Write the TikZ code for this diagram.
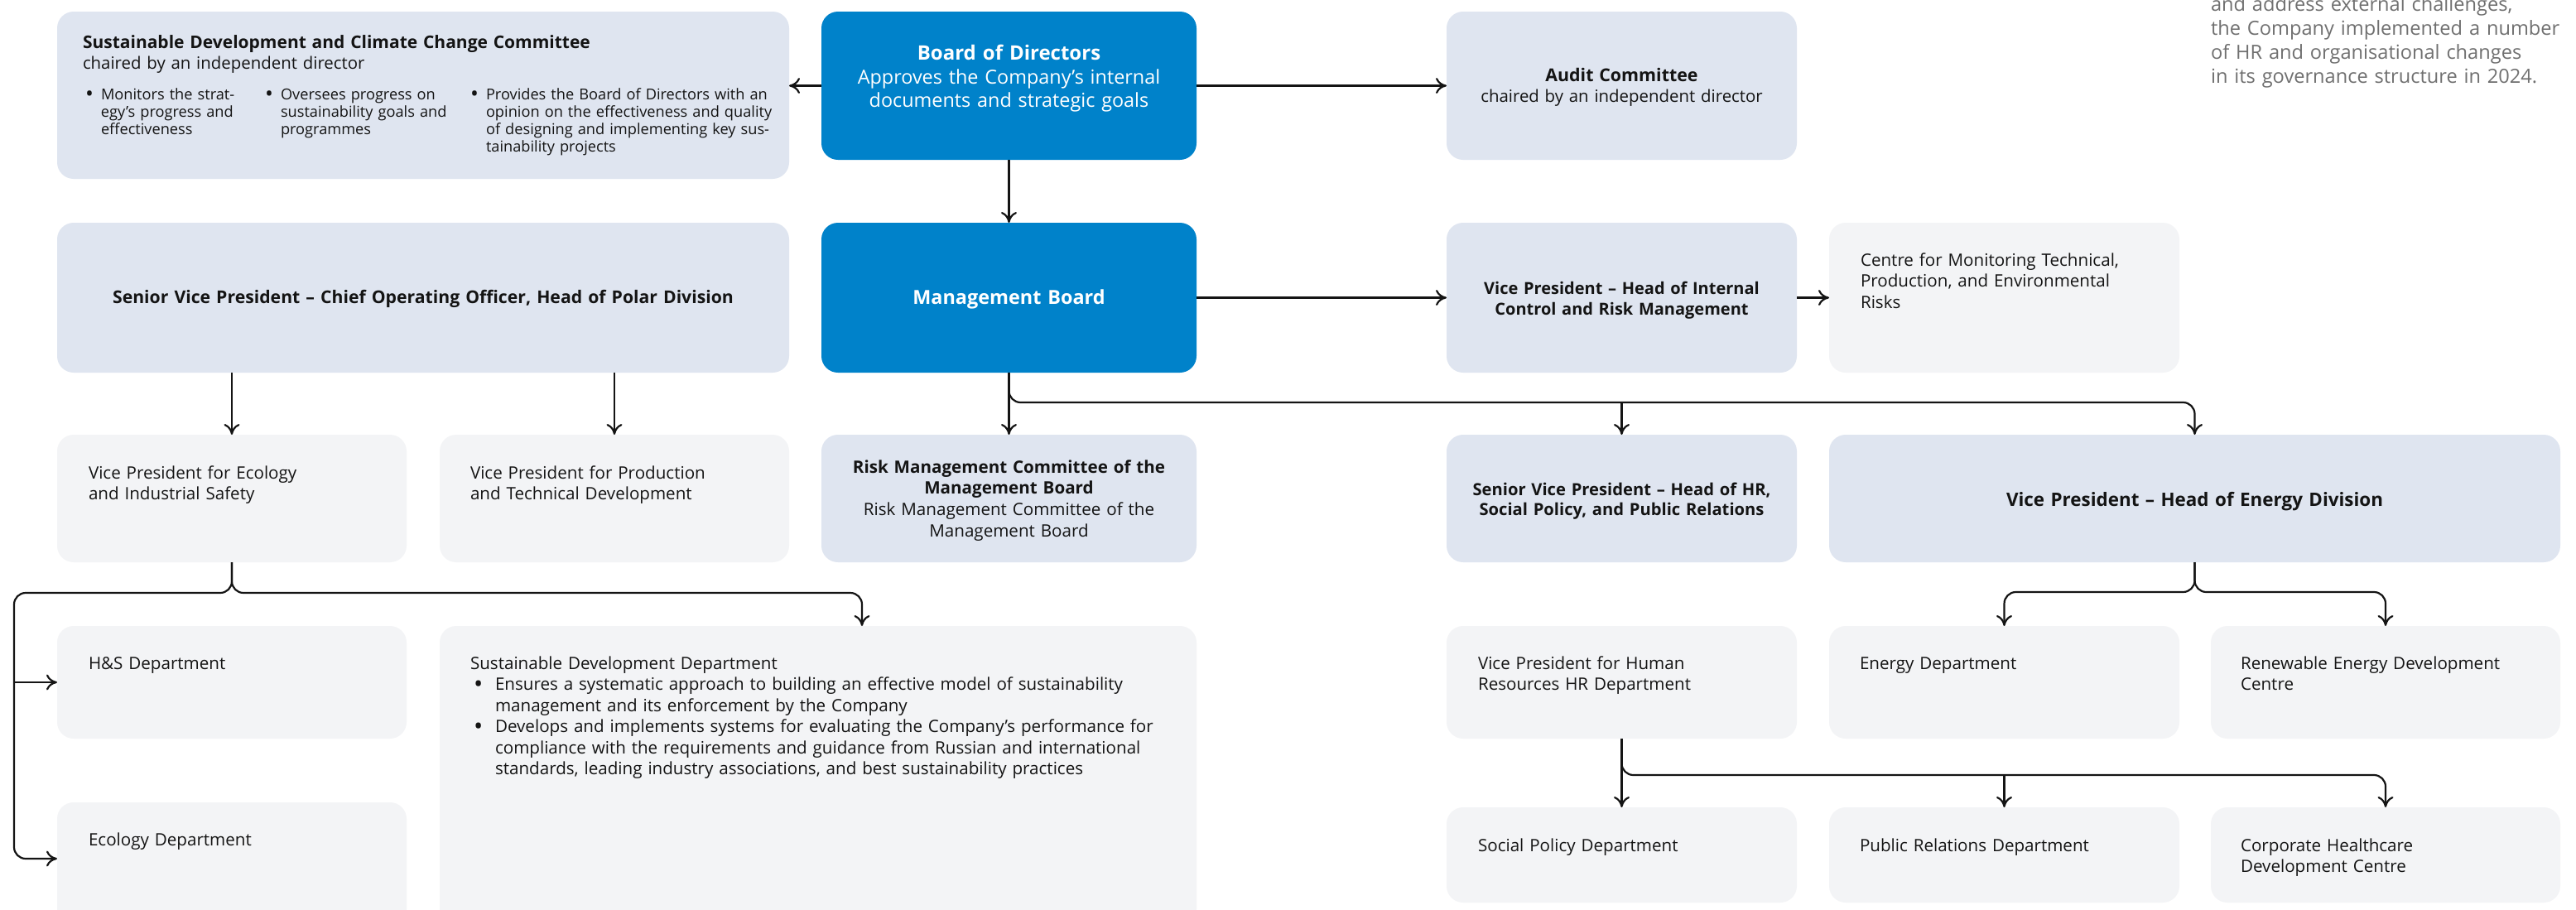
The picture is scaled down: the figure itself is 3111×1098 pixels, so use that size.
\documentclass[tikz,border=0pt]{standalone}
\usepackage{fontspec}
\setmainfont{Open Sans}
\usetikzlibrary{arrows.meta}
\definecolor{nnblue}{RGB}{0,130,202}
\definecolor{boxblue}{RGB}{223,229,240}
\definecolor{boxgray}{RGB}{243,244,246}
\definecolor{notegray}{RGB}{112,112,112}
\definecolor{ink}{RGB}{20,20,20}
\newcommand\fBody{\fontsize{10.3}{12.75}\selectfont}
\newcommand\fHead{\fontsize{10.2}{12.5}\selectfont\bfseries}
\newcommand\fSmall{\fontsize{9.1}{10.5}\selectfont}
\newcommand\fSdcc{\fontsize{10.2}{12.5}\selectfont}
\newcommand\fBodTitle{\fontsize{12}{14}\selectfont\bfseries}
\newcommand\fBodBody{\fontsize{11.7}{14}\selectfont}
\newcommand\fMB{\fontsize{11.7}{14}\selectfont\bfseries}
\newcommand\fCoo{\fontsize{10.6}{12}\selectfont\bfseries}
\newcommand\fNote{\fontsize{11.8}{14.65}\selectfont}
\newcommand\bigdot{\raisebox{-0.25ex}{\scalebox{1.45}{\textbullet}}}
\newcommand\bulS{\makebox[9.5pt][l]{\bigdot}}
\newcommand\bulSsp{\hspace*{9.5pt}}
\newcommand\bulL{\makebox[15pt][l]{\hspace{2pt}\bigdot}}
\newcommand\bulLsp{\hspace*{15pt}}
\begin{document}
\begin{tikzpicture}[x=0.5pt,y=-0.5pt,
  box/.style={rounded corners=10pt, inner sep=0pt, outer sep=0pt, draw=none},
  bluebox/.style={box, fill=nnblue},
  lbox/.style={box, fill=boxblue},
  gbox/.style={box, fill=boxgray},
  conn/.style={line width=1.1pt, draw=ink, -{Computer Modern Rightarrow[length=6.5pt,width=9.5pt]}},
  bus/.style={conn, rounded corners=7pt},
  ltxt/.style={inner sep=0pt, outer sep=0pt, anchor=base west, align=left, text width=#1, text=ink, font=\fBody},
  ltxt/.default=300pt,
  ctxt/.style={inner sep=0pt, outer sep=0pt, anchor=base, align=center, text width=#1, text=ink, font=\fHead},
  ctxt/.default=400pt
]
\useasboundingbox (0,0) rectangle (3111,1098);
\clip (0,0) rectangle (3111,1098);
\fill[white] (0,0) rectangle (3111,1098);

% ---------- boxes ----------
\node[lbox, minimum width=442pt, minimum height=101pt] (sdcc) at (511,115) {};
\node[bluebox, minimum width=226.5pt, minimum height=89.5pt] (bod) at (1218.5,103.5) {};
\node[lbox, minimum width=211.5pt, minimum height=89.5pt] (audit) at (1958.5,103.5) {};

\node[lbox, minimum width=442pt, minimum height=90.5pt] (svpcoo) at (511,359.5) {};
\node[bluebox, minimum width=226.5pt, minimum height=90.5pt] (mb) at (1218.5,359.5) {};
\node[lbox, minimum width=211.5pt, minimum height=90.5pt] (vpic) at (1958.5,359.5) {};
\node[gbox, minimum width=211.5pt, minimum height=90.5pt] (cmon) at (2420.5,359.5) {};

\node[gbox, minimum width=211pt, minimum height=77pt] (vpeco) at (280,602) {};
\node[gbox, minimum width=211pt, minimum height=77pt] (vpprod) at (742,602) {};
\node[lbox, minimum width=226.5pt, minimum height=77pt] (rmc) at (1218.5,602) {};
\node[lbox, minimum width=211.5pt, minimum height=77pt] (svphr) at (1958.5,602) {};
\node[lbox, minimum width=441.5pt, minimum height=77pt] (vpen) at (2650.5,602) {};

\node[gbox, minimum width=211pt, minimum height=68pt] (hs) at (280,824) {};
\node[gbox, minimum width=457pt, minimum height=202pt] (sdd) at (988,958) {};
\node[gbox, minimum width=211.5pt, minimum height=68pt] (vphr) at (1958.5,824) {};
\node[gbox, minimum width=211.5pt, minimum height=68pt] (ende) at (2420.5,824) {};
\node[gbox, minimum width=211pt, minimum height=68pt] (rend) at (2881,824) {};

\node[gbox, minimum width=211pt, minimum height=110pt] (eco) at (280,1079) {};
\node[gbox, minimum width=211.5pt, minimum height=57.5pt] (spd) at (1958.5,1032.5) {};
\node[gbox, minimum width=211.5pt, minimum height=57.5pt] (prd) at (2420.5,1032.5) {};
\node[gbox, minimum width=211pt, minimum height=57.5pt] (chd) at (2881,1032.5) {};

% ---------- texts ----------
\node[ltxt=420pt, font=\fSdcc] (t-sdcc) at (100,58)
  {{\fontsize{10.5}{12.5}\selectfont\bfseries Sustainable Development and Climate Change Committee}\\chaired by an independent director};
\node[ltxt=110pt, font=\fSmall] (t-sdcc1) at (103,120)
  {\bulS Monitors the strat-\\\bulSsp egy’s progress and\\\bulSsp effectiveness};
\node[ltxt=125pt, font=\fSmall] (t-sdcc2) at (320,120)
  {\bulS Oversees progress on\\\bulSsp sustainability goals and\\\bulSsp programmes};
\node[ltxt=200pt, font=\fSmall] (t-sdcc3) at (568,120)
  {\bulS Provides the Board of Directors with an\\\bulSsp opinion on the effectiveness and quality\\\bulSsp of designing and implementing key sus-\\\bulSsp tainability projects};

\node[ctxt=220pt, font=\fBodTitle, text=white] (t-bod1) at (1218.5,72) {Board of Directors};
\node[ctxt=220pt, font=\fBodBody, text=white] (t-bod2) at (1218.5,101)
  {Approves the Company’s internal\\documents and strategic goals};
\node[ctxt=210pt, font=\fontsize{10.2}{12.5}\selectfont] (t-aud) at (1958.5,98)
  {{\fontsize{10.7}{12.5}\selectfont\bfseries Audit Committee}\\chaired by an independent director};

\node[ltxt=215pt, font=\fNote, text=notegray] (t-note) at (2670,13)
  {and address external challenges,\\the Company implemented a number\\of HR and organisational changes\\in its governance structure in 2024.};

\node[ctxt=440pt, font=\fCoo] (t-coo) at (511,366)
  {Senior Vice President – Chief Operating Officer, Head of Polar Division};
\node[ctxt=220pt, font=\fMB, text=white] (t-mb) at (1218.5,367) {Management Board};
\node[ctxt=210pt, font=\fontsize{10}{12.5}\selectfont\bfseries] (t-vpic) at (1958.5,355)
  {Vice President – Head of Internal\\Control and Risk Management};
\node[ltxt=190pt] (t-cmon) at (2247,321)
  {Centre for Monitoring Technical,\\Production, and Environmental\\Risks};

\node[ltxt=190pt] (t-vpeco) at (107,578) {Vice President for Ecology\\and Industrial Safety};
\node[ltxt=190pt] (t-vpprod) at (568,578) {Vice President for Production\\and Technical Development};
\node[ctxt=224pt, font=\fontsize{10.3}{12.85}\selectfont] (t-rmc) at (1218.5,571)
  {{\bfseries Risk Management Committee of the}\\{\bfseries Management Board}\\Risk Management Committee of the\\Management Board};
\node[ctxt=210pt, font=\fontsize{10.1}{12.2}\selectfont\bfseries] (t-svphr) at (1958.5,598)
  {Senior Vice President – Head of HR,\\Social Policy, and Public Relations};
\node[ctxt=430pt, font=\fontsize{11.2}{13}\selectfont\bfseries] (t-vpen) at (2650.5,611) {Vice President – Head of Energy Division};

\node[ltxt=190pt] (t-hs) at (107,808) {H\&S Department};
\node[ltxt=440pt] (t-sdd) at (568,808)
  {Sustainable Development Department\\
   \bulL Ensures a systematic approach to building an effective model of sustainability\\
   \bulLsp management and its enforcement by the Company\\
   \bulL Develops and implements systems for evaluating the Company’s performance for\\
   \bulLsp compliance with the requirements and guidance from Russian and international\\
   \bulLsp standards, leading industry associations, and best sustainability practices};
\node[ltxt=190pt] (t-eco) at (107,1021) {Ecology Department};
\node[ltxt=190pt] (t-vphr) at (1785,808) {Vice President for Human\\Resources HR Department};
\node[ltxt=190pt] (t-ende) at (2246,808) {Energy Department};
\node[ltxt=190pt] (t-rend) at (2706,808) {Renewable Energy Development\\Centre};
\node[ltxt=190pt] (t-spd) at (1785,1028) {Social Policy Department};
\node[ltxt=190pt] (t-prd) at (2246,1028) {Public Relations Department};
\node[ltxt=190pt] (t-chd) at (2706,1028) {Corporate Healthcare\\Development Centre};

% ---------- connectors ----------
\draw[conn] (bod.west) -- (bod.west -| sdcc.east);
\draw[conn] (bod.east) -- (audit.west);
\draw[conn] (bod.south) -- (mb.north);
\draw[conn] (mb.east) -- (vpic.west);
\draw[conn] (vpic.east) -- (cmon.west);
\draw[conn] (vpeco.north |- svpcoo.south) -- (vpeco.north);
\draw[conn] (vpprod.north |- svpcoo.south) -- (vpprod.north);
\draw[conn] (mb.south) -- (rmc.north);
\coordinate (mbbus) at (1218.5,486);
\draw[bus] (mb.south) -- (mbbus) -| (vpen.north);
\draw[conn] (mbbus -| svphr.north) -- (svphr.north);

\coordinate (enbus) at (2650.5,715);
\draw[bus] (vpen.south) -- (enbus) -| (ende.north);
\draw[bus] (vpen.south) -- (enbus) -| (rend.north);

\draw[conn] (vphr.south) -- (spd.north);
\coordinate (hrbus) at (1958.5,936);
\draw[bus] (vphr.south) -- (hrbus) -| (chd.north);
\draw[conn] (hrbus -| prd.north) -- (prd.north);

\coordinate (ecobus) at (280,716);
\coordinate (ecoleft) at (17,716);
\draw[bus] (vpeco.south) -- (ecobus) -| ([xshift=26.5pt]sdd.north);
\draw[bus] (vpeco.south) -- (ecobus) -- (ecoleft) |- ([yshift=-34pt]eco.north west);
\draw[conn] (ecoleft |- hs.west) -- (hs.west);
\end{tikzpicture}
\end{document}
